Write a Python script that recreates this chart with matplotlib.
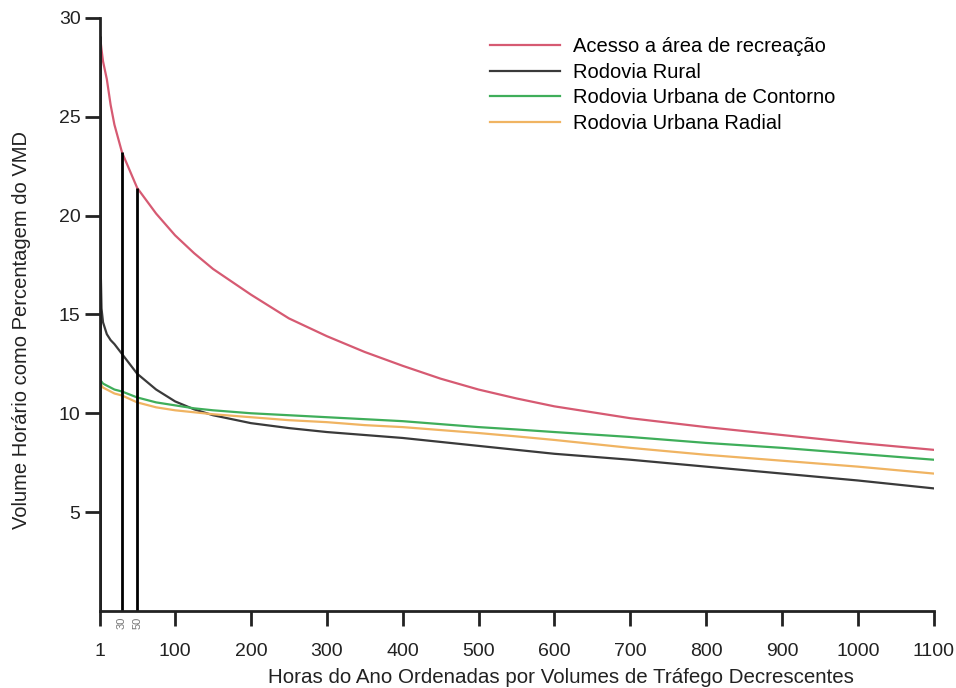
import matplotlib
matplotlib.use("Agg")
import matplotlib.pyplot as plt

plt.rcParams['font.family'] = ['Liberation Sans', 'DejaVu Sans']

# hours (x) and hourly volume as % of VMD (y)
hours = [1, 3, 5, 10, 15, 20, 30, 50, 75, 100, 125, 150, 200, 250, 300, 350,
         400, 450, 500, 550, 600, 700, 800, 900, 1000, 1100]
recreacao = [29.1, 28.4, 27.8, 26.9, 25.6, 24.6, 23.2, 21.4, 20.1, 19.0, 18.1, 17.3,
             16.0, 14.8, 13.9, 13.1, 12.4, 11.75, 11.2, 10.75, 10.35, 9.75, 9.3, 8.9,
             8.5, 8.15]
rural = [19.0, 15.3, 14.6, 14.0, 13.7, 13.5, 13.0, 12.0, 11.2, 10.6, 10.2, 9.9,
         9.5, 9.25, 9.05, 8.9, 8.75, 8.55, 8.35, 8.15, 7.95, 7.65, 7.3, 6.95, 6.6, 6.2]
contorno = [11.7, 11.6, 11.5, 11.4, 11.3, 11.2, 11.1, 10.8, 10.55, 10.4, 10.25, 10.15,
            10.0, 9.9, 9.8, 9.7, 9.6, 9.45, 9.3, 9.18, 9.05, 8.8, 8.5, 8.25, 7.95, 7.65]
radial = [11.5, 11.4, 11.3, 11.2, 11.1, 11.0, 10.9, 10.55, 10.3, 10.15, 10.05, 9.95,
          9.8, 9.65, 9.55, 9.4, 9.3, 9.15, 9.0, 8.83, 8.65, 8.25, 7.9, 7.6, 7.3, 6.95]

# design hours marked with vertical lines
marks = [1, 30, 50]
marks_top = [29.1, 23.2, 21.4]

xticks = [1, 100, 200, 300, 400, 500, 600, 700, 800, 900, 1000, 1100]
yticks = [5, 10, 15, 20, 25, 30]

fig = plt.figure(figsize=(9.56, 6.88), dpi=100)
ax = fig.add_axes([0.1046, 0.112, 0.872, 0.862])

ax.plot(hours, recreacao, color='#d65a72', lw=1.6, label='Acesso a área de recreação')
ax.plot(hours, rural, color='#3a3a3a', lw=1.6, label='Rodovia Rural')
ax.plot(hours, contorno, color='#3fae5a', lw=1.6, label='Rodovia Urbana de Contorno')
ax.plot(hours, radial, color='#f0b462', lw=1.6, label='Rodovia Urbana Radial')

ax.vlines(marks, 0, marks_top, color='black', lw=2)

ax.set_xlim(1, 1100)
ax.set_ylim(0, 30)
ax.set_xticks(xticks)
ax.set_yticks(yticks)
ax.set_xticks([30, 50], minor=True)
ax.set_xticklabels(['30', '50'], minor=True, rotation=90, fontsize=8, color='#777777')
ax.tick_params(axis='x', which='minor', length=0, pad=4)
ax.tick_params(axis='both', which='major', length=11, width=2, labelsize=14,
               color='#222222', labelcolor='#222222')
ax.tick_params(axis='x', which='major', pad=12)
ax.tick_params(axis='y', which='major', pad=3)

for s in ['top', 'right']:
    ax.spines[s].set_visible(False)
for s in ['left', 'bottom']:
    ax.spines[s].set_linewidth(2)
    ax.spines[s].set_color('#222222')

ax.set_xlabel('Horas do Ano Ordenadas por Volumes de Tráfego Decrescentes',
              fontsize=14.8, color='#222222')
ax.xaxis.set_label_coords(0.553, -0.096)
ax.set_ylabel('Volume Horário como Percentagem do VMD', fontsize=14.5,
              color='#222222')
ax.yaxis.set_label_coords(-0.0825, 0.474)

ax.legend(loc='upper left', bbox_to_anchor=(0.504, 0.958), bbox_transform=fig.transFigure,
          borderaxespad=0, frameon=False, fontsize=14.5,
          handlelength=3.5, handletextpad=0.62, labelspacing=0.33)

fig.savefig('out.png', dpi=100)
